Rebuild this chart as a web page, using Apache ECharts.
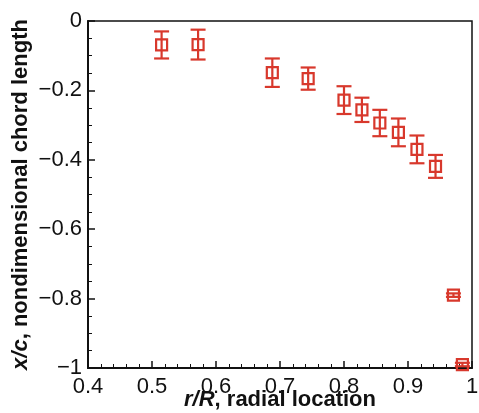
<!DOCTYPE html>
<html>
<head>
<meta charset="utf-8">
<script src="https://cdn.jsdelivr.net/npm/echarts@6/dist/echarts.min.js"></script>
<style>html,body{margin:0;padding:0;background:#fff;}#c{width:479px;height:413px;}</style>
</head>
<body>
<div id="c"></div>
<script>
var rR = [0.515, 0.572, 0.688, 0.744, 0.800, 0.828, 0.856, 0.885, 0.914, 0.943, 0.971, 0.985];
var xc = [-0.069, -0.068, -0.149, -0.166, -0.228, -0.256, -0.294, -0.321, -0.370, -0.419, -0.790, -0.990];
var err = [0.039, 0.043, 0.041, 0.032, 0.040, 0.035, 0.038, 0.040, 0.040, 0.033, 0.005, 0.005];
var xTicks = [0.4, 0.5, 0.6, 0.7, 0.8, 0.9, 1];
var yTicks = [0, -0.2, -0.4, -0.6, -0.8, -1];

var red = '#d8382c';
var data = rR.map(function (x, i) { return [x, xc[i], err[i]]; });

function fmt(v) {
  var s = String(Math.round(v * 10) / 10);
  return s.replace('-', '\u2212');
}

var chart = echarts.init(document.getElementById('c'), null, {renderer: 'canvas'});
chart.setOption({
  animation: false,
  backgroundColor: '#fff',
  grid: {left: 88, right: 7, top: 21, bottom: 45, outerBoundsMode: 'none', containLabel: false, show: true, borderColor: '#111', borderWidth: 1.5, backgroundColor: 'transparent'},
  xAxis: {
    type: 'value', min: 0.4, max: 1, interval: 0.1,
    name: '{i|r/R}{b|, radial location}',
    nameLocation: 'middle', nameGap: 21, nameMoveOverlap: false,
    nameTextStyle: {
      rich: {
        i: {fontFamily: 'Liberation Sans', fontSize: 22, fontWeight: 'bold', fontStyle: 'italic', color: '#111'},
        b: {fontFamily: 'Liberation Sans', fontSize: 22, fontWeight: 'bold', color: '#111'}
      }
    },
    axisLine: {show: true, onZero: false, lineStyle: {color: '#111', width: 2}},
    axisTick: {show: true, inside: true, length: 7, lineStyle: {color: '#111', width: 1.5}},
    minorTick: {show: true, splitNumber: 5, length: 4, lineStyle: {color: '#111', width: 1}},
    splitLine: {show: false},
    axisLabel: {
      fontFamily: 'Liberation Sans', fontSize: 22, color: '#111', margin: 8,
      formatter: function (v) { return fmt(v); },
      customValues: xTicks
    }
  },
  yAxis: {
    type: 'value', min: -1, max: 0, interval: 0.2,
    name: '{i|x/c}{b|, nondimensional chord length}',
    nameLocation: 'middle', nameGap: 56, nameRotate: 90, nameMoveOverlap: false,
    nameTextStyle: {
      rich: {
        i: {fontFamily: 'Liberation Sans', fontSize: 22, fontWeight: 'bold', fontStyle: 'italic', color: '#111'},
        b: {fontFamily: 'Liberation Sans', fontSize: 22, fontWeight: 'bold', color: '#111'}
      }
    },
    axisLine: {show: true, onZero: false, lineStyle: {color: '#111', width: 2}},
    axisTick: {show: true, inside: true, length: 7, lineStyle: {color: '#111', width: 1.5}},
    minorTick: {show: true, splitNumber: 4, length: 4, lineStyle: {color: '#111', width: 1}},
    splitLine: {show: false},
    axisLabel: {
      fontFamily: 'Liberation Sans', fontSize: 22, color: '#111', margin: 6,
      formatter: function (v) { return fmt(v); },
      customValues: yTicks
    }
  },
  series: [{
    type: 'custom',
    data: data,
    clip: false,
    renderItem: function (params, api) {
      var x = api.value(0), y = api.value(1), e = api.value(2);
      var c = api.coord([x, y]);
      var top = api.coord([x, y + e]);
      var bot = api.coord([x, y - e]);
      var cap = 7.5;
      var s = 5.5;
      var st = {stroke: red, lineWidth: 2.2, fill: null};
      return {
        type: 'group',
        children: [
          {type: 'line', shape: {x1: c[0], y1: top[1], x2: c[0], y2: bot[1]}, style: st},
          {type: 'line', shape: {x1: c[0] - cap, y1: top[1], x2: c[0] + cap, y2: top[1]}, style: st},
          {type: 'line', shape: {x1: c[0] - cap, y1: bot[1], x2: c[0] + cap, y2: bot[1]}, style: st},
          {type: 'rect', shape: {x: c[0] - s, y: c[1] - s, width: 2 * s, height: 2 * s}, style: {stroke: red, lineWidth: 2.2, fill: 'transparent'}}
        ]
      };
    }
  }]
});
</script>
</body>
</html>
